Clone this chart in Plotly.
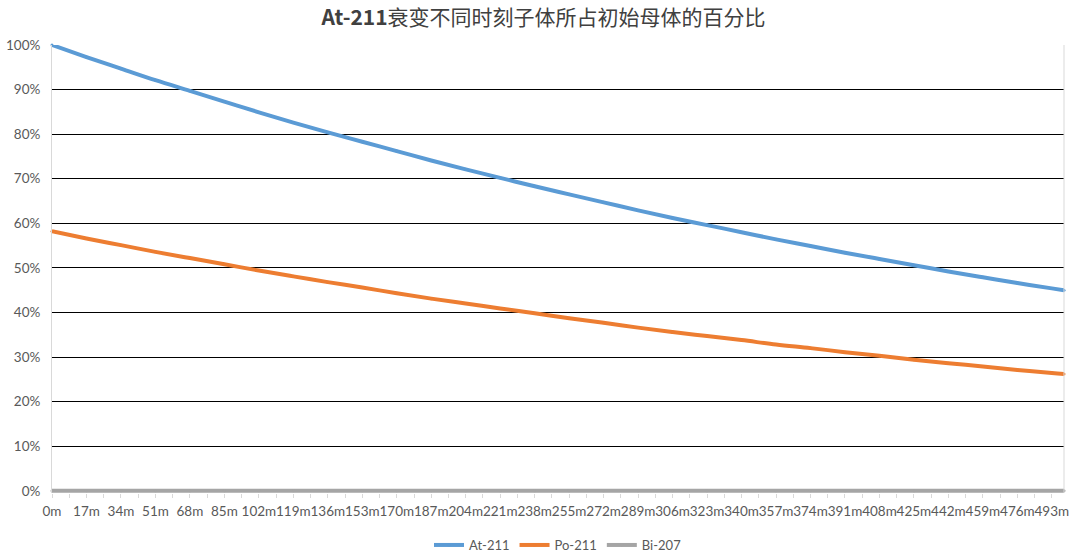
import plotly.graph_objects as go

minutes = [0, 17, 34, 51, 68, 85, 102, 119, 136, 153, 170, 187, 204, 221, 238,
           255, 272, 289, 306, 323, 340, 357, 374, 391, 408, 425, 442, 459, 476, 493, 499]
at211 = [100.0, 97.3, 94.7, 92.1, 89.7, 87.3, 84.9, 82.6, 80.4, 78.3, 76.2, 74.1, 72.1, 70.2, 68.3,
         66.5, 64.7, 62.9, 61.2, 59.6, 58.0, 56.4, 54.9, 53.4, 52.0, 50.6, 49.2, 47.9, 46.6, 45.4, 45.0]
po211 = [58.2, 56.6, 55.1, 53.6, 52.2, 50.8, 49.4, 48.1, 46.8, 45.6, 44.3, 43.1, 42.0, 40.9, 39.8,
         38.7, 37.7, 36.6, 35.6, 34.7, 33.8, 32.8, 32.0, 31.1, 30.3, 29.4, 28.6, 27.9, 27.1, 26.4, 26.2]
bi207 = [0.0] * 31

tick_minutes = [0, 17, 34, 51, 68, 85, 102, 119, 136, 153, 170, 187, 204, 221, 238,
                255, 272, 289, 306, 323, 340, 357, 374, 391, 408, 425, 442, 459, 476, 493]
tick_labels = [f"{m}m" for m in tick_minutes]

series = [("At-211", at211, "#5B9BD5"), ("Po-211", po211, "#ED7D31"), ("Bi-207", bi207, "#A5A5A5")]

fig = go.Figure()
for name, vals, color in series:
    fig.add_trace(go.Scatter(
        x=minutes, y=vals, name=name, mode="lines+markers",
        line=dict(color=color, width=4, shape="spline", smoothing=1.0),
        marker=dict(color=color, size=3),
        cliponaxis=False,
    ))

fig.update_layout(
    width=1070, height=555,
    margin=dict(l=52, r=6, t=45, b=62, autoexpand=False),
    paper_bgcolor="white", plot_bgcolor="white",
    title=dict(text="<b>At-211</b>衰变不同时刻子体所占初始母体的百分比",
               x=0.508, xanchor="center", y=0.968, yanchor="middle",
               font=dict(family="Noto Sans CJK SC, Lato, sans-serif", size=21, color="#404040")),
    font=dict(family="Lato, Noto Sans CJK SC, sans-serif", size=13.5, color="#595959"),
    showlegend=True,
    legend=dict(orientation="h", x=0.5, xanchor="center", yref="container", y=0.018, yanchor="middle",
                font=dict(size=13, color="#595959"), itemwidth=30),
    xaxis=dict(range=[0, 499], tickvals=tick_minutes, ticktext=tick_labels, tickangle=0,
               showgrid=False, zeroline=False, showline=False, automargin=False,
               ticks="outside", ticklen=4, tickcolor="#D9D9D9", ticklabelstandoff=2,
               tickfont=dict(size=13.5, color="#595959"),
               minor=dict(ticks="outside", ticklen=4, tickcolor="#D9D9D9", dtick=8.5, tick0=0)),
    yaxis=dict(range=[-0.5, 100], dtick=10, tick0=0, ticksuffix="%", showgrid=True, gridcolor="black", gridwidth=1,
               zeroline=False, showline=True, linecolor="#D9D9D9", linewidth=1, automargin=False,
               tickfont=dict(size=13.5, color="#595959"), ticks="", ticklabelstandoff=8),
)
fig.add_shape(type="line", xref="paper", yref="paper", x0=1, x1=1, y0=0, y1=1,
              line=dict(color="#D9D9D9", width=1))

fig.write_html("out.html")
